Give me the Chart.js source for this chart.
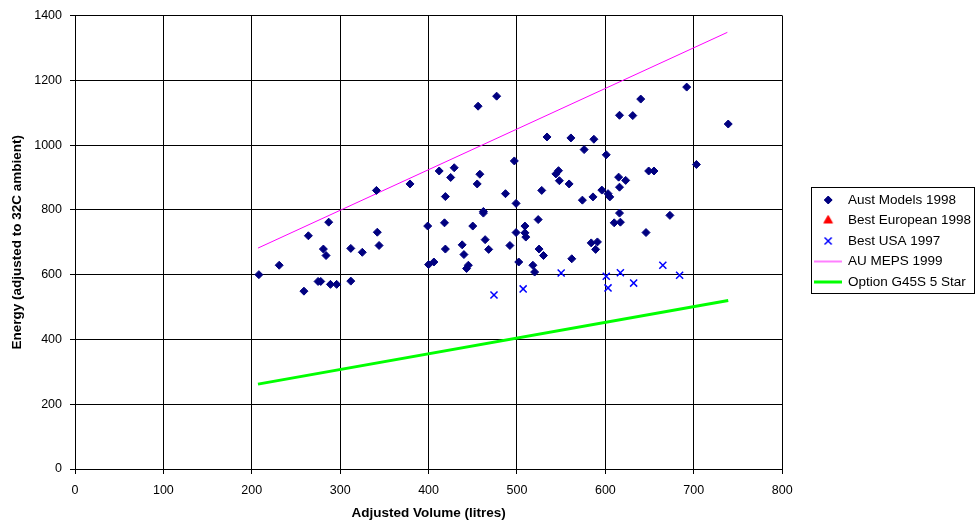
<!DOCTYPE html>
<html lang="en">
<head>
    <meta charset="UTF-8">
    <title>Energy vs Adjusted Volume</title>
    <script src="https://cdn.jsdelivr.net/npm/chart.js@4.4.0/dist/chart.umd.min.js"></script>
    <style>
        html, body { margin: 0; padding: 0; background: #fff; }
        #wrap { width: 976px; height: 525px; }
    </style>
</head>
<body>
    <div id="wrap"><canvas id="myChart"></canvas></div>

    <script>
        'use strict';

        // Aust Models 1998
        const austVolumes = [208, 231, 259, 264, 275, 278, 281, 284, 287, 289, 296, 312, 312, 325, 341, 342, 344, 379,
            399, 400, 406, 412, 418, 419, 419, 425, 429, 438, 440, 443, 445, 450, 455, 456, 458, 462, 462, 464, 468, 477,
            487, 492, 497, 499, 499, 502, 509, 509, 510, 518, 520, 524, 525, 528, 530, 534, 544, 547, 548, 559, 561, 562,
            574, 576, 584, 586, 587, 589, 591, 596, 601, 603, 605, 610, 615, 616, 616, 616, 617, 623, 631, 640, 646, 649,
            655, 673, 692, 703, 739];
        const austEnergies = [600, 629, 549, 720, 579, 579, 679, 659, 762, 570, 570, 681, 580, 669, 860, 731, 690, 880,
            750, 631, 639, 920, 760, 841, 679, 900, 930, 692, 662, 619, 629, 750, 880, 1120, 910, 790, 795, 708, 678, 1151,
            850, 690, 951, 820, 730, 639, 750, 729, 716, 629, 608, 770, 679, 860, 659, 1025, 911, 921, 890, 880, 1022, 649,
            830, 986, 698, 840, 1018, 678, 701, 861, 970, 850, 840, 760, 901, 1092, 870, 790, 762, 891, 1091, 1142, 730, 920,
            920, 783, 1179, 940, 1065];

        // Best European 1998 (no points shown)
        const europeVolumes = [];
        const europeEnergies = [];

        // Best USA 1997
        const usaVolumes = [474, 507, 550, 601, 603, 617, 632, 665, 684];
        const usaEnergies = [537, 556, 605, 595, 559, 606, 574, 629, 598];

        // AU MEPS 1999
        const mepsVolumes = [207, 738];
        const mepsEnergies = [682, 1348];

        // Option G45S 5 Star
        const g45sVolumes = [207, 739];
        const g45sEnergies = [262, 520];

        const xTickValues = [0, 100, 200, 300, 400, 500, 600, 700, 800];
        const yTickValues = [0, 200, 400, 600, 800, 1000, 1200, 1400];

        const seriesNames = ['Aust Models 1998', 'Best European 1998', 'Best USA 1997', 'AU MEPS 1999', 'Option G45S 5 Star'];

        const toPoints = (xs, ys) => xs.map((x, i) => ({ x: x, y: ys[i] }));

        // small canvases used as legend symbols
        function markerImage(style, color, radius, borderWidth) {
            const c = document.createElement('canvas');
            c.width = 28; c.height = 14;
            const cx = c.getContext('2d');
            cx.fillStyle = color;
            cx.strokeStyle = color;
            cx.lineWidth = borderWidth;
            Chart.helpers.drawPoint(cx, { pointStyle: style, radius: radius, rotation: 0, borderWidth: borderWidth }, 14, 7);
            return c;
        }
        function lineImage(color, width) {
            const c = document.createElement('canvas');
            c.width = 28; c.height = 14;
            const cx = c.getContext('2d');
            cx.fillStyle = color;
            cx.fillRect(0, 7 - width / 2, 28, width);
            return c;
        }

        const legendIcons = [
            markerImage('rectRot', '#000080', 4, 1),
            markerImage('triangle', '#FF0000', 5, 1),
            markerImage('crossRot', '#0000FF', 5, 1.5),
            lineImage('#FF00FF', 1),
            lineImage('#00FF00', 3)
        ];

        // place the legend and draw a frame round it
        const legendFrame = {
            id: 'legendFrame',
            afterLayout(chart) {
                const lg = chart.legend;
                const pad = lg.options.labels.padding;
                lg.left = chart.chartArea.right + 33 - pad;
                lg.right = chart.width;
                lg.top = 0;
                lg.bottom = 482;
            },
            afterDraw(chart) {
                const boxes = chart.legend.legendHitBoxes;
                if (!boxes || !boxes.length) return;
                const left = Math.min(...boxes.map(b => b.left)) - 4;
                const top = Math.min(...boxes.map(b => b.top)) - 6;
                const right = chart.width - 1;
                const bottom = Math.max(...boxes.map(b => b.top + b.height)) + 4;
                const ctx = chart.ctx;
                ctx.save();
                ctx.strokeStyle = '#000';
                ctx.lineWidth = 1;
                ctx.strokeRect(Math.round(left) + 0.5, Math.round(top) + 0.5, Math.round(right - left) - 1, Math.round(bottom - top));
                ctx.restore();
            }
        };

        const ctx = document.getElementById('myChart').getContext('2d');
        const myChart = new Chart(ctx, {
            type: 'scatter',
            data: {
                datasets: [{
                    label: seriesNames[0],
                    data: toPoints(austVolumes, austEnergies),
                    pointStyle: 'rectRot',
                    pointRadius: 4,
                    backgroundColor: '#000080',
                    borderColor: '#000080',
                    borderWidth: 1
                }, {
                    label: seriesNames[1],
                    data: toPoints(europeVolumes, europeEnergies),
                    pointStyle: 'triangle',
                    pointRadius: 5,
                    backgroundColor: '#FF0000',
                    borderColor: '#FF0000'
                }, {
                    label: seriesNames[2],
                    data: toPoints(usaVolumes, usaEnergies),
                    pointStyle: 'crossRot',
                    pointRadius: 5,
                    backgroundColor: '#0000FF',
                    borderColor: '#0000FF',
                    borderWidth: 1.5
                }, {
                    label: seriesNames[3],
                    data: toPoints(mepsVolumes, mepsEnergies),
                    showLine: true,
                    pointRadius: 0,
                    borderColor: '#FF00FF',
                    backgroundColor: '#FF00FF',
                    borderWidth: 1
                }, {
                    label: seriesNames[4],
                    data: toPoints(g45sVolumes, g45sEnergies),
                    showLine: true,
                    pointRadius: 0,
                    borderColor: '#00FF00',
                    backgroundColor: '#00FF00',
                    borderWidth: 3
                }]
            },
            options: {
                responsive: true,
                maintainAspectRatio: false,
                animation: false,
                layout: { padding: { top: 15, right: 21, left: 0, bottom: 0 } },
                plugins: {
                    tooltip: { enabled: false },
                    legend: {
                        position: 'right',
                        labels: {
                            font: { family: 'Liberation Sans', size: 13.5 },
                            color: '#000',
                            usePointStyle: true,
                            pointStyleWidth: 26,
                            padding: 7,
                            generateLabels: (chart) => chart.data.datasets.map((ds, i) => ({
                                text: ds.label,
                                pointStyle: legendIcons[i],
                                fillStyle: ds.backgroundColor,
                                strokeStyle: ds.borderColor,
                                lineWidth: 0,
                                hidden: false,
                                datasetIndex: i
                            }))
                        }
                    }
                },
                scales: {
                    x: {
                        type: 'linear',
                        min: 0,
                        max: 800,
                        afterBuildTicks: (scale) => { scale.ticks = xTickValues.map(v => ({ value: v })); },
                        afterFit: (scale) => { scale.height = 56; },
                        grid: { color: '#000', lineWidth: 1, tickLength: 5, drawTicks: true },
                        border: { color: '#000', width: 1 },
                        ticks: {
                            font: { family: 'Liberation Sans', size: 12.5 },
                            color: '#000',
                            padding: 9,
                            maxRotation: 0,
                            callback: (v) => String(v)
                        },
                        title: {
                            display: true,
                            text: 'Adjusted Volume (litres)',
                            font: { family: 'Liberation Sans', size: 13.5, weight: 'bold' },
                            color: '#000',
                            padding: { top: 0, bottom: 4 }
                        }
                    },
                    y: {
                        type: 'linear',
                        min: 0,
                        max: 1400,
                        afterBuildTicks: (scale) => { scale.ticks = yTickValues.map(v => ({ value: v })); },
                        afterFit: (scale) => { scale.width = 75; },
                        grid: { color: '#000', lineWidth: 1, tickLength: 5 },
                        border: { color: '#000', width: 1 },
                        ticks: {
                            font: { family: 'Liberation Sans', size: 12.5 },
                            color: '#000',
                            padding: 8,
                            callback: (v) => String(v)
                        },
                        title: {
                            display: true,
                            text: 'Energy (adjusted to 32C ambient)',
                            font: { family: 'Liberation Sans', size: 13.5, weight: 'bold' },
                            color: '#000',
                            padding: { top: 9, bottom: 0 }
                        }
                    }
                }
            },
            plugins: [legendFrame]
        });
    </script>
</body>
</html>
